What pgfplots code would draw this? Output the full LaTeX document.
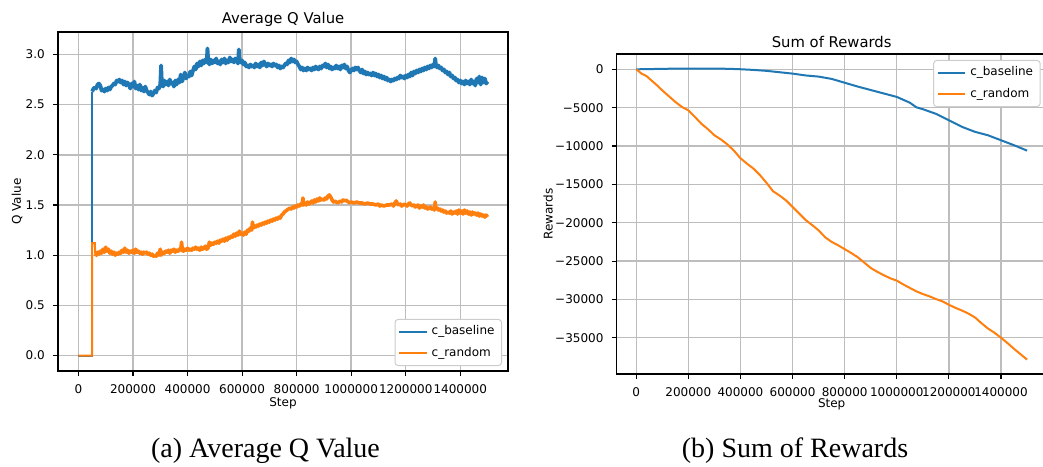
\documentclass[border=0pt]{standalone}
\usepackage{fontspec}
\setmainfont{DejaVu Sans}
\newfontfamily\capfont{Liberation Serif}
\usepackage{pgfplots}
\pgfplotsset{compat=1.18}
\definecolor{mblue}{HTML}{1F77B4}
\definecolor{morange}{HTML}{FF7F0E}
\definecolor{mgrid}{HTML}{BDBDBD}
\definecolor{mleg}{HTML}{CCCCCC}
\newcommand{\tf}{\fontsize{6}{7}\selectfont}
\pgfplotsset{
  mpl/.style={
    scale only axis,
    anchor=south west,
    axis line style={black,line width=0.55pt},
    tick style={black,line width=0.55pt},
    major tick length=2.5pt,
    tick align=outside,
    xtick pos=left, ytick pos=left,
    scaled ticks=false,
    grid=major,
    major grid style={mgrid,line width=0.7pt},
    ticklabel style={font=\tf},
    xticklabel style={yshift=-0.6pt},
    yticklabel style={xshift=-0.6pt},
    xtick={0,200,400,600,800,1000,1200,1400},
    xticklabels={0,200000,400000,600000,800000,1000000,1200000,1400000},
    xlabel={Step},
    every axis x label/.style={anchor=center,font=\tf},
    every axis y label/.style={anchor=center,rotate=90,font=\tf},
    every axis title/.style={anchor=center,font=\fontsize{7.4}{8}\selectfont},
    legend cell align=left,
    legend style={draw=mleg,rounded corners=1.5pt,fill=white,
      font=\tf,inner xsep=1.5pt,inner ysep=1pt,row sep=0.9pt,line width=0.5pt},
  }
}
\begin{document}
\begin{tikzpicture}[x=1pt,y=1pt]
\useasboundingbox (0,0) rectangle (521.5,233);
\begin{axis}[mpl,
  at={(29pt,47.5pt)}, width=225pt, height=169.5pt,
  xmin=-75, xmax=1575, ymin=-0.1535, ymax=3.2235,
  ytick={0,0.5,1,1.5,2,2.5,3},
  yticklabels={0.0,0.5,1.0,1.5,2.0,2.5,3.0},
  xlabel style={at={(axis description cs:0.5,-0.0944)}},
  ylabel={Q Value}, ylabel style={at={(axis description cs:-0.0911,0.5)}},
  title={Average Q Value}, title style={at={(axis description cs:0.5,1.0383)}},
  legend style={at={(1,0)},anchor=south east,xshift=-3pt,yshift=2.5pt},
  legend image code/.code={\draw[#1] (0pt,0pt) -- (13.8pt,0pt);},
]
\addlegendimage{mblue,line width=1pt}
\addlegendentry{c\_baseline}
\addlegendimage{morange,line width=1pt}
\addlegendentry{c\_random}
\addplot[mblue,line width=1pt,forget plot] coordinates {(0,0) (50,0) (50,2.63)};
\addplot[mblue,line width=1.9pt,line join=round,forget plot] coordinates {
(50,2.63) (52,2.64) (55,2.66) (60,2.67) (65,2.66) (70,2.70) (75,2.71) (80,2.69)
(85,2.64) (90,2.65) (95,2.63) (100,2.66) (105,2.64) (110,2.67) (115,2.65) (120,2.68) (125,2.69) (130,2.71)
(135,2.70) (140,2.74) (145,2.73) (150,2.75) (155,2.72) (160,2.74) (165,2.70) (170,2.73) (175,2.69) (180,2.72)
(185,2.70) (190,2.66) (195,2.71) (200,2.68) (205,2.73) (210,2.66) (215,2.69) (220,2.65) (225,2.70) (230,2.64)
(235,2.67) (240,2.63) (245,2.68) (250,2.64) (255,2.62) (260,2.60) (265,2.63) (270,2.59) (275,2.61) (280,2.64)
(285,2.62) (290,2.67) (295,2.66) (300,2.70) (303,2.89) (306,2.70) (310,2.68) (315,2.74) (320,2.70) (325,2.73)
(330,2.69) (335,2.75) (340,2.71) (345,2.72) (350,2.68) (355,2.74) (360,2.70) (365,2.75) (370,2.72) (375,2.80)
(380,2.73) (385,2.77) (390,2.82) (395,2.76) (400,2.79) (405,2.78) (410,2.83) (415,2.79) (420,2.84) (425,2.88)
(430,2.85) (435,2.91) (440,2.88) (445,2.93) (450,2.89) (455,2.94) (460,2.91) (465,2.95) (470,2.92) (473,3.06)
(476,2.93) (480,2.90) (485,2.95) (490,2.91) (495,2.94) (500,2.92) (505,2.96) (510,2.91) (515,2.93) (520,2.90)
(525,2.95) (530,2.92) (535,2.96) (540,2.91) (545,2.94) (550,2.92) (555,2.97) (560,2.93) (565,2.95) (570,2.92)
(575,2.96) (580,2.94) (585,2.91) (588,3.05) (591,2.93) (595,2.92) (600,2.94) (605,2.90) (610,2.92) (615,2.88)
(620,2.89) (625,2.87) (630,2.90) (635,2.88) (640,2.89) (645,2.87) (650,2.91) (655,2.88) (660,2.90) (665,2.87)
(670,2.92) (675,2.89) (680,2.93) (685,2.90) (690,2.88) (695,2.91) (700,2.89) (705,2.90) (710,2.88) (715,2.91)
(720,2.89) (725,2.90) (730,2.87) (735,2.89) (740,2.86) (745,2.88) (750,2.87) (755,2.89) (760,2.91) (765,2.90)
(770,2.94) (775,2.92) (780,2.96) (785,2.93) (790,2.95) (795,2.92) (800,2.93) (805,2.90) (810,2.88) (815,2.85)
(820,2.87) (825,2.84) (830,2.86) (835,2.84) (840,2.87) (845,2.85) (850,2.86) (855,2.84) (860,2.87) (865,2.85)
(870,2.88) (875,2.86) (880,2.85) (885,2.88) (890,2.86) (895,2.89) (900,2.88) (905,2.91) (910,2.87) (915,2.90)
(920,2.86) (925,2.88) (930,2.85) (935,2.87) (940,2.86) (945,2.89) (950,2.86) (955,2.88) (960,2.85) (965,2.89)
(970,2.87) (975,2.90) (980,2.86) (985,2.88) (990,2.84) (995,2.82) (1000,2.84) (1005,2.86) (1010,2.84) (1015,2.87)
(1020,2.85) (1025,2.87) (1030,2.84) (1035,2.82) (1040,2.85) (1045,2.81) (1050,2.83) (1055,2.80) (1060,2.82) (1065,2.80)
(1070,2.81) (1075,2.79) (1080,2.82) (1085,2.79) (1090,2.81) (1095,2.78) (1100,2.80) (1105,2.77) (1110,2.79) (1115,2.76)
(1120,2.78) (1125,2.75) (1130,2.77) (1135,2.74) (1140,2.75) (1145,2.73) (1150,2.75) (1155,2.74) (1160,2.76) (1165,2.75)
(1170,2.77) (1175,2.76) (1180,2.79) (1185,2.77) (1190,2.78) (1195,2.76) (1200,2.79) (1205,2.77) (1210,2.80) (1215,2.78)
(1220,2.82) (1225,2.79) (1230,2.83) (1235,2.81) (1240,2.84) (1245,2.82) (1250,2.85) (1255,2.83) (1260,2.86) (1265,2.84)
(1270,2.87) (1275,2.85) (1280,2.88) (1285,2.86) (1290,2.89) (1295,2.87) (1300,2.90) (1305,2.88) (1308,2.96) (1311,2.89)
(1315,2.87) (1320,2.89) (1325,2.86) (1330,2.87) (1335,2.84) (1340,2.85) (1345,2.82) (1350,2.83) (1355,2.80) (1360,2.82)
(1365,2.78) (1370,2.79) (1375,2.76) (1380,2.77) (1385,2.74) (1390,2.75) (1395,2.72) (1400,2.74) (1405,2.71) (1410,2.73)
(1415,2.70) (1420,2.74) (1425,2.71) (1430,2.73) (1435,2.70) (1440,2.75) (1445,2.71) (1450,2.73) (1455,2.69) (1460,2.76)
(1465,2.72) (1470,2.78) (1475,2.70) (1480,2.77) (1485,2.72) (1490,2.76) (1495,2.71) (1500,2.73)
};
\addplot[morange,line width=1pt,forget plot] coordinates {(0,0) (50,0) (50,1.12) (60,1.12) (62,0.99)};
\addplot[morange,line width=1.8pt,line join=round,forget plot] coordinates {
(62,0.99) (65,1.00) (70,1.03) (75,1.01) (80,1.04) (85,1.02)
(90,1.06) (95,1.03) (100,1.08) (105,1.04) (110,1.06) (115,1.02) (120,1.04) (125,1.01) (130,1.03) (135,1.00)
(140,1.02) (145,1.01) (150,1.03) (155,1.02) (160,1.05) (165,1.03) (170,1.07) (175,1.03) (180,1.05) (185,1.02)
(190,1.04) (195,1.03) (200,1.05) (205,1.02) (210,1.06) (215,1.03) (220,1.04) (225,1.02) (230,1.03) (235,1.01)
(240,1.03) (245,1.02) (250,1.03) (255,1.01) (260,1.02) (265,1.00) (270,1.01) (275,0.99) (280,1.00) (285,0.99)
(290,1.02) (295,1.00) (300,1.06) (303,1.00) (305,1.01) (310,1.03) (315,1.02) (320,1.04) (325,1.03) (330,1.05)
(335,1.02) (340,1.05) (345,1.04) (350,1.06) (355,1.03) (360,1.05) (365,1.04) (370,1.06) (375,1.05) (378,1.13)
(381,1.05) (385,1.04) (390,1.06) (395,1.05) (400,1.07) (405,1.05) (410,1.06) (415,1.05) (420,1.07) (425,1.06)
(430,1.08) (435,1.06) (440,1.07) (445,1.05) (450,1.08) (455,1.06) (460,1.07) (465,1.09) (470,1.06) (475,1.07)
(480,1.13) (485,1.10) (490,1.12) (495,1.11) (500,1.13) (505,1.12) (510,1.14) (515,1.12) (520,1.15) (525,1.14)
(530,1.16) (535,1.14) (540,1.17) (545,1.15) (550,1.18) (555,1.17) (560,1.19) (565,1.18) (570,1.21) (575,1.19)
(580,1.22) (585,1.20) (590,1.24) (595,1.21) (600,1.22) (605,1.20) (610,1.23) (615,1.21) (620,1.25) (625,1.24)
(630,1.27) (635,1.25) (638,1.33) (641,1.27) (645,1.29) (650,1.28) (655,1.30) (660,1.29) (665,1.31) (670,1.30)
(675,1.32) (680,1.31) (685,1.33) (690,1.32) (695,1.34) (700,1.33) (705,1.35) (710,1.34) (715,1.36) (720,1.35)
(725,1.37) (730,1.36) (735,1.38) (740,1.37) (745,1.40) (750,1.41) (755,1.43) (760,1.44) (765,1.45) (770,1.46)
(775,1.47) (780,1.46) (785,1.48) (790,1.47) (795,1.49) (800,1.48) (805,1.50) (810,1.49) (815,1.51) (820,1.50)
(823,1.57) (826,1.50) (830,1.52) (835,1.50) (840,1.53) (845,1.51) (850,1.52) (855,1.54) (860,1.52) (865,1.55)
(870,1.53) (875,1.56) (880,1.54) (885,1.57) (890,1.55) (895,1.56) (900,1.55) (905,1.57) (910,1.56) (915,1.59)
(920,1.60) (925,1.58) (930,1.55) (935,1.53) (940,1.54) (945,1.53) (950,1.52) (955,1.53) (960,1.54) (965,1.53)
(970,1.55) (975,1.54) (980,1.55) (985,1.54) (990,1.53) (995,1.52) (1000,1.53) (1010,1.52) (1020,1.53) (1030,1.52)
(1040,1.52) (1050,1.51) (1060,1.52) (1070,1.51) (1080,1.51) (1090,1.50) (1100,1.51) (1105,1.49) (1110,1.50) (1120,1.49)
(1130,1.50) (1140,1.50) (1150,1.51) (1155,1.49) (1160,1.52) (1165,1.54) (1170,1.51) (1175,1.50) (1180,1.51) (1185,1.49)
(1190,1.50) (1195,1.51) (1200,1.50) (1205,1.49) (1210,1.51) (1215,1.52) (1220,1.50) (1225,1.49) (1230,1.50) (1235,1.48)
(1240,1.49) (1245,1.50) (1250,1.47) (1255,1.49) (1260,1.48) (1265,1.50) (1270,1.47) (1275,1.48) (1280,1.46) (1285,1.47)
(1290,1.48) (1295,1.46) (1300,1.47) (1305,1.45) (1308,1.53) (1311,1.46) (1315,1.47) (1320,1.45) (1325,1.46) (1330,1.44)
(1335,1.45) (1340,1.43) (1345,1.44) (1350,1.42) (1355,1.43) (1360,1.42) (1365,1.44) (1370,1.41) (1375,1.43) (1380,1.42)
(1385,1.44) (1390,1.41) (1395,1.45) (1400,1.42) (1405,1.44) (1410,1.41) (1415,1.45) (1420,1.42) (1425,1.44) (1430,1.41)
(1435,1.43) (1440,1.40) (1445,1.43) (1450,1.41) (1455,1.42) (1460,1.40) (1465,1.42) (1470,1.39) (1475,1.41) (1480,1.39)
(1485,1.40) (1490,1.38) (1495,1.40) (1500,1.38)
};
\end{axis}
\begin{axis}[mpl,
  at={(308.35pt,46pt)}, width=214.95pt, height=160pt,
  xmin=-75, xmax=1575, ymin=-39727, ymax=1997,
  ytick={0,-5000,-10000,-15000,-20000,-25000,-30000,-35000},
  yticklabels={0,−5000,−10000,−15000,−20000,−25000,−30000,−35000},
  xlabel style={at={(axis description cs:0.5,-0.094)}},
  ylabel={Rewards}, ylabel style={at={(axis description cs:-0.1596,0.5)}},
  title={Sum of Rewards}, title style={at={(axis description cs:0.5,1.0375)}},
  legend style={at={(1,1)},anchor=north east,xshift=-3pt,yshift=-3pt},
  legend image code/.code={\draw[#1] (0pt,0pt) -- (13.8pt,0pt);},
]
\addplot[mblue,line width=1pt] coordinates {
(0,0) (50,30) (100,60) (150,90) (200,100) (250,100) (300,90) (350,70) (400,10) (450,-80)
(500,-200) (550,-380) (600,-560) (650,-800) (700,-950) (750,-1250) (800,-1750) (850,-2250) (900,-2700) (950,-3150)
(1000,-3600) (1050,-4350) (1075,-4950) (1100,-5200) (1150,-5800) (1200,-6650) (1250,-7500) (1300,-8150) (1350,-8600) (1400,-9250)
(1450,-9900) (1500,-10600)
};
\addlegendentry{c\_baseline}
\addplot[morange,line width=1pt] coordinates {
(0,0) (20,-550) (40,-900) (60,-1500) (80,-2100) (100,-2750) (125,-3500) (150,-4250) (175,-4900) (200,-5350)
(225,-6200) (250,-7100) (275,-7800) (300,-8600) (325,-9150) (350,-9800) (375,-10600) (400,-11600) (425,-12300) (450,-12950)
(475,-13800) (500,-14800) (525,-15900) (550,-16450) (575,-17100) (600,-17950) (625,-18800) (650,-19650) (675,-20300) (700,-21000)
(725,-21900) (750,-22500) (775,-22950) (800,-23450) (825,-23950) (850,-24500) (875,-25200) (900,-25900) (925,-26400) (950,-26850)
(975,-27250) (1000,-27550) (1025,-28050) (1050,-28500) (1075,-28950) (1100,-29300) (1125,-29600) (1150,-29950) (1175,-30250) (1200,-30700)
(1225,-31100) (1250,-31450) (1275,-31850) (1300,-32350) (1325,-33100) (1350,-33800) (1375,-34350) (1400,-35000) (1425,-35700) (1450,-36450)
(1475,-37150) (1500,-37850)
};
\addlegendentry{c\_random}
\end{axis}
\node[font=\capfont\fontsize{14}{16}\selectfont] at (132.75,7.5) {(a) Average Q Value};
\node[font=\capfont\fontsize{14}{16}\selectfont] at (397.5,7.5) {(b) Sum of Rewards};
\end{tikzpicture}
\end{document}
